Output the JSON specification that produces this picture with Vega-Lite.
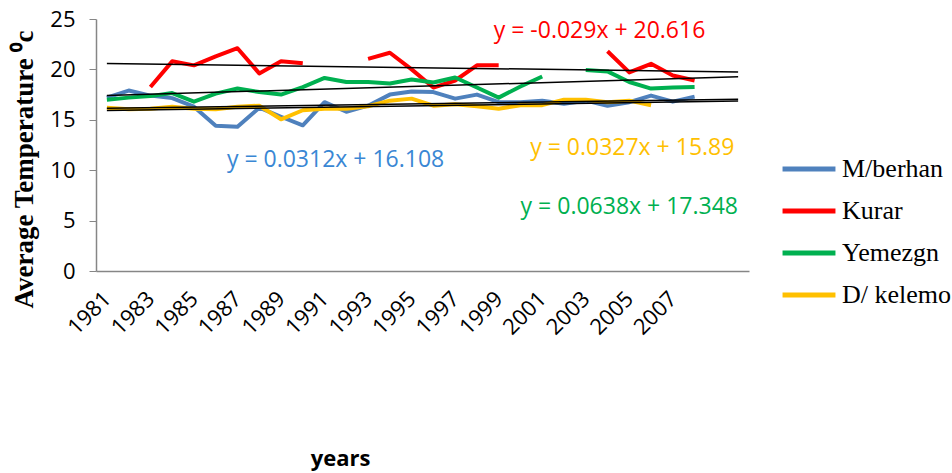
{
  "$schema": "https://vega.github.io/schema/vega-lite/v6.json",
  "width": 653,
  "height": 252,
  "autosize": "none",
  "padding": {"left": 96, "top": 19, "right": 203, "bottom": 202},
  "background": "white",
  "config": {"view": {"stroke": null}, "mark": {"invalid": "break-paths-show-domains"}},
  "datasets": {
    "temps": [
      {"year": 1981, "station": "M/berhan", "temp": 17.2},
      {"year": 1982, "station": "M/berhan", "temp": 17.9},
      {"year": 1983, "station": "M/berhan", "temp": 17.4},
      {"year": 1984, "station": "M/berhan", "temp": 17.15},
      {"year": 1985, "station": "M/berhan", "temp": 16.3},
      {"year": 1986, "station": "M/berhan", "temp": 14.4},
      {"year": 1987, "station": "M/berhan", "temp": 14.3},
      {"year": 1988, "station": "M/berhan", "temp": 16.2},
      {"year": 1989, "station": "M/berhan", "temp": 15.3},
      {"year": 1990, "station": "M/berhan", "temp": 14.45},
      {"year": 1991, "station": "M/berhan", "temp": 16.75},
      {"year": 1992, "station": "M/berhan", "temp": 15.8},
      {"year": 1993, "station": "M/berhan", "temp": 16.4},
      {"year": 1994, "station": "M/berhan", "temp": 17.5},
      {"year": 1995, "station": "M/berhan", "temp": 17.8},
      {"year": 1996, "station": "M/berhan", "temp": 17.75},
      {"year": 1997, "station": "M/berhan", "temp": 17.1},
      {"year": 1998, "station": "M/berhan", "temp": 17.5},
      {"year": 1999, "station": "M/berhan", "temp": 16.75},
      {"year": 2000, "station": "M/berhan", "temp": 16.75},
      {"year": 2001, "station": "M/berhan", "temp": 16.9},
      {"year": 2002, "station": "M/berhan", "temp": 16.6},
      {"year": 2003, "station": "M/berhan", "temp": 16.9},
      {"year": 2004, "station": "M/berhan", "temp": 16.4},
      {"year": 2005, "station": "M/berhan", "temp": 16.75},
      {"year": 2006, "station": "M/berhan", "temp": 17.4},
      {"year": 2007, "station": "M/berhan", "temp": 16.8},
      {"year": 2008, "station": "M/berhan", "temp": 17.3},
      {"year": 1981, "station": "Kurar", "temp": null},
      {"year": 1982, "station": "Kurar", "temp": null},
      {"year": 1983, "station": "Kurar", "temp": 18.25},
      {"year": 1984, "station": "Kurar", "temp": 20.8},
      {"year": 1985, "station": "Kurar", "temp": 20.4},
      {"year": 1986, "station": "Kurar", "temp": 21.3},
      {"year": 1987, "station": "Kurar", "temp": 22.1},
      {"year": 1988, "station": "Kurar", "temp": 19.6},
      {"year": 1989, "station": "Kurar", "temp": 20.8},
      {"year": 1990, "station": "Kurar", "temp": 20.6},
      {"year": 1991, "station": "Kurar", "temp": null},
      {"year": 1992, "station": "Kurar", "temp": null},
      {"year": 1993, "station": "Kurar", "temp": 21.05},
      {"year": 1994, "station": "Kurar", "temp": 21.65},
      {"year": 1995, "station": "Kurar", "temp": 20.0},
      {"year": 1996, "station": "Kurar", "temp": 18.2},
      {"year": 1997, "station": "Kurar", "temp": 18.9},
      {"year": 1998, "station": "Kurar", "temp": 20.4},
      {"year": 1999, "station": "Kurar", "temp": 20.4},
      {"year": 2000, "station": "Kurar", "temp": null},
      {"year": 2001, "station": "Kurar", "temp": null},
      {"year": 2002, "station": "Kurar", "temp": null},
      {"year": 2003, "station": "Kurar", "temp": null},
      {"year": 2004, "station": "Kurar", "temp": 21.8},
      {"year": 2005, "station": "Kurar", "temp": 19.7},
      {"year": 2006, "station": "Kurar", "temp": 20.55},
      {"year": 2007, "station": "Kurar", "temp": 19.4},
      {"year": 2008, "station": "Kurar", "temp": 18.9},
      {"year": 1981, "station": "Yemezgn", "temp": 17.0},
      {"year": 1982, "station": "Yemezgn", "temp": 17.2},
      {"year": 1983, "station": "Yemezgn", "temp": 17.35},
      {"year": 1984, "station": "Yemezgn", "temp": 17.65},
      {"year": 1985, "station": "Yemezgn", "temp": 16.8},
      {"year": 1986, "station": "Yemezgn", "temp": 17.6},
      {"year": 1987, "station": "Yemezgn", "temp": 18.1},
      {"year": 1988, "station": "Yemezgn", "temp": 17.75},
      {"year": 1989, "station": "Yemezgn", "temp": 17.5},
      {"year": 1990, "station": "Yemezgn", "temp": 18.25},
      {"year": 1991, "station": "Yemezgn", "temp": 19.15},
      {"year": 1992, "station": "Yemezgn", "temp": 18.75},
      {"year": 1993, "station": "Yemezgn", "temp": 18.75},
      {"year": 1994, "station": "Yemezgn", "temp": 18.6},
      {"year": 1995, "station": "Yemezgn", "temp": 19.0},
      {"year": 1996, "station": "Yemezgn", "temp": 18.7},
      {"year": 1997, "station": "Yemezgn", "temp": 19.2},
      {"year": 1998, "station": "Yemezgn", "temp": 18.2},
      {"year": 1999, "station": "Yemezgn", "temp": 17.2},
      {"year": 2000, "station": "Yemezgn", "temp": 18.3},
      {"year": 2001, "station": "Yemezgn", "temp": 19.3},
      {"year": 2002, "station": "Yemezgn", "temp": null},
      {"year": 2003, "station": "Yemezgn", "temp": 19.95},
      {"year": 2004, "station": "Yemezgn", "temp": 19.8},
      {"year": 2005, "station": "Yemezgn", "temp": 18.75},
      {"year": 2006, "station": "Yemezgn", "temp": 18.1},
      {"year": 2007, "station": "Yemezgn", "temp": 18.2},
      {"year": 2008, "station": "Yemezgn", "temp": 18.25},
      {"year": 1981, "station": "D/ kelemo", "temp": 16.2},
      {"year": 1982, "station": "D/ kelemo", "temp": 16.05},
      {"year": 1983, "station": "D/ kelemo", "temp": 16.1},
      {"year": 1984, "station": "D/ kelemo", "temp": 16.3},
      {"year": 1985, "station": "D/ kelemo", "temp": 16.1},
      {"year": 1986, "station": "D/ kelemo", "temp": 16.05},
      {"year": 1987, "station": "D/ kelemo", "temp": 16.3},
      {"year": 1988, "station": "D/ kelemo", "temp": 16.4},
      {"year": 1989, "station": "D/ kelemo", "temp": 15.05},
      {"year": 1990, "station": "D/ kelemo", "temp": 15.95},
      {"year": 1991, "station": "D/ kelemo", "temp": 16.1},
      {"year": 1992, "station": "D/ kelemo", "temp": 16.1},
      {"year": 1993, "station": "D/ kelemo", "temp": 16.35},
      {"year": 1994, "station": "D/ kelemo", "temp": 16.9},
      {"year": 1995, "station": "D/ kelemo", "temp": 17.1},
      {"year": 1996, "station": "D/ kelemo", "temp": 16.4},
      {"year": 1997, "station": "D/ kelemo", "temp": 16.55},
      {"year": 1998, "station": "D/ kelemo", "temp": 16.35},
      {"year": 1999, "station": "D/ kelemo", "temp": 16.1},
      {"year": 2000, "station": "D/ kelemo", "temp": 16.45},
      {"year": 2001, "station": "D/ kelemo", "temp": 16.45},
      {"year": 2002, "station": "D/ kelemo", "temp": 17.0},
      {"year": 2003, "station": "D/ kelemo", "temp": 17.0},
      {"year": 2004, "station": "D/ kelemo", "temp": 16.75},
      {"year": 2005, "station": "D/ kelemo", "temp": 16.9},
      {"year": 2006, "station": "D/ kelemo", "temp": 16.45},
      {"year": 2007, "station": "D/ kelemo", "temp": null},
      {"year": 2008, "station": "D/ kelemo", "temp": null}
    ],
    "trends": [
      {"year": 1981, "station": "M/berhan", "trend": 16.139},
      {"year": 2010, "station": "M/berhan", "trend": 17.044},
      {"year": 1981, "station": "Kurar", "trend": 20.587},
      {"year": 2010, "station": "Kurar", "trend": 19.746},
      {"year": 1981, "station": "Yemezgn", "trend": 17.412},
      {"year": 2010, "station": "Yemezgn", "trend": 19.262},
      {"year": 1981, "station": "D/ kelemo", "trend": 15.923},
      {"year": 2010, "station": "D/ kelemo", "trend": 16.871}
    ]
  },
  "encoding": {
    "x": {
      "field": "year",
      "type": "ordinal",
      "scale": {"type": "point", "padding": 0.5, "domain": [1981,1982,1983,1984,1985,1986,1987,1988,1989,1990,1991,1992,1993,1994,1995,1996,1997,1998,1999,2000,2001,2002,2003,2004,2005,2006,2007,2008,2009,2010]},
      "axis": {
        "title": "years",
        "titleFont": "Open Sans",
        "titleFontWeight": "bold",
        "titleFontSize": 22,
        "titleColor": "#000000",
        "titleX": 244,
        "titleY": 187,
        "titleAlign": "center",
        "titleBaseline": "middle",
        "labelExpr": "(datum.value % 2 == 1 && datum.value <= 2007) ? datum.value : ''",
        "labelAngle": -45,
        "labelAlign": "right",
        "labelBaseline": "middle",
        "labelPadding": 24,
        "labelFont": "Open Sans",
        "labelFontSize": 22,
        "labelColor": "#000000",
        "labelOverlap": false,
        "ticks": false,
        "grid": false,
        "domainColor": "#868686",
        "domainWidth": 1.5
      }
    },
    "y": {
      "type": "quantitative",
      "scale": {"domain": [0, 25], "nice": false},
      "axis": {
        "title": "Average Temperature \u2070c",
        "titleFont": "Liberation Serif",
        "titleFontWeight": "bold",
        "titleFontSize": 27,
        "titleColor": "#000000",
        "titleAngle": -90,
        "titleX": -72,
        "titleY": 150,
        "titleAlign": "center",
        "titleBaseline": "middle",
        "values": [0, 5, 10, 15, 20, 25],
        "labelFont": "Open Sans",
        "labelFontSize": 22,
        "labelColor": "#000000",
        "labelPadding": 14,
        "tickSize": 7,
        "tickColor": "#868686",
        "domainColor": "#868686",
        "domainWidth": 1.5,
        "grid": false
      }
    }
  },
  "layer": [
    {
      "data": {"name": "temps"},
      "mark": {"type": "line", "strokeWidth": 4, "strokeJoin": "round", "strokeCap": "butt"},
      "encoding": {
        "y": {"field": "temp", "type": "quantitative"},
        "color": {
          "field": "station",
          "type": "nominal",
          "scale": {"domain": ["M/berhan", "Kurar", "Yemezgn", "D/ kelemo"], "range": ["#4F81BD", "#FF0000", "#00B050", "#FFC000"]},
          "legend": {
            "title": null,
            "orient": "none",
            "legendX": 684,
            "legendY": 121,
            "symbolType": "stroke",
            "symbolSize": 2800,
            "symbolStrokeWidth": 5,
            "labelFont": "Liberation Serif",
            "labelFontSize": 26,
            "labelColor": "#000000",
            "labelOffset": 4,
            "rowPadding": -3,
            "labelLimit": 300
          }
        }
      }
    },
    {
      "data": {"name": "trends"},
      "mark": {"type": "line", "strokeWidth": 1.5, "color": "#000000"},
      "encoding": {
        "y": {"field": "trend", "type": "quantitative"},
        "detail": {"field": "station", "type": "nominal"}
      }
    },
    {
      "data": {"values": [{"year": 2004, "value": 23.76, "label": "y = -0.029x + 20.616"}]},
      "mark": {"type": "text", "font": "Open Sans", "fontSize": 23, "color": "#FF0000", "align": "center", "baseline": "middle", "dx": -8},
      "encoding": {"y": {"field": "value", "type": "quantitative"}, "text": {"field": "label"}}
    },
    {
      "data": {"values": [{"year": 1991, "value": 11.0, "label": "y = 0.0312x + 16.108"}]},
      "mark": {"type": "text", "font": "Open Sans", "fontSize": 23, "color": "#3A87D4", "align": "center", "baseline": "middle", "dx": 11},
      "encoding": {"y": {"field": "value", "type": "quantitative"}, "text": {"field": "label"}}
    },
    {
      "data": {"values": [{"year": 2005, "value": 12.2, "label": "y = 0.0327x + 15.89"}]},
      "mark": {"type": "text", "font": "Open Sans", "fontSize": 23, "color": "#FFC000", "align": "center", "baseline": "middle", "dx": 3},
      "encoding": {"y": {"field": "value", "type": "quantitative"}, "text": {"field": "label"}}
    },
    {
      "data": {"values": [{"year": 2005, "value": 6.34, "label": "y = 0.0638x + 17.348"}]},
      "mark": {"type": "text", "font": "Open Sans", "fontSize": 23, "color": "#00B050", "align": "center", "baseline": "middle", "dx": 0},
      "encoding": {"y": {"field": "value", "type": "quantitative"}, "text": {"field": "label"}}
    }
  ]
}
